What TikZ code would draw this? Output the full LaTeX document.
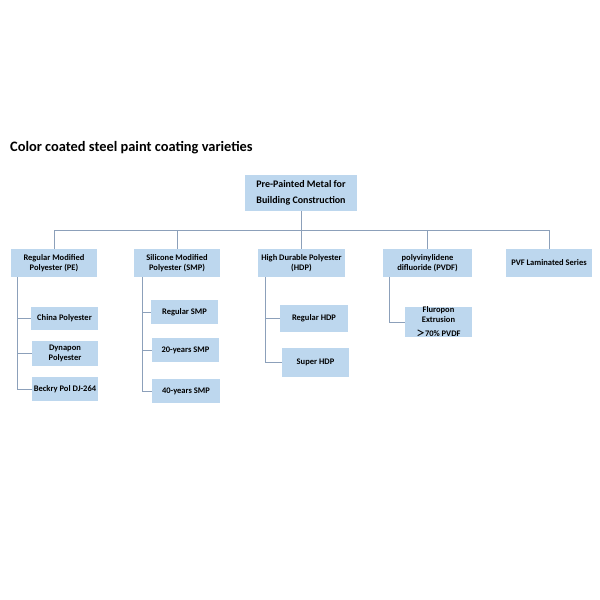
\documentclass[tikz,border=0pt]{standalone}
\usepackage{fontspec}
\setmainfont{Carlito}
\newfontfamily\cjkf{Noto Sans CJK SC}
\definecolor{boxblue}{RGB}{189,215,238}
\definecolor{linecol}{RGB}{140,160,186}
\begin{document}
\begin{tikzpicture}[x=1pt,y=-1pt,
  bx/.style={fill=boxblue,inner sep=0pt,align=center,font=\bfseries\fontsize{8.5}{10}\selectfont},
  conn/.style={draw=linecol,line width=0.7pt}]
\useasboundingbox (0,0) rectangle (600,600);
\fill[white] (0,0) rectangle (600,600);
\node[anchor=west,font=\bfseries\fontsize{14.4}{16}\selectfont,inner sep=0pt] (title) at (10,148) {Color coated steel paint coating varieties};
% root
\node[bx,minimum width=112pt,minimum height=36pt,font=\bfseries\fontsize{10}{16}\selectfont] (root) at (301,193) {Pre-Painted Metal for\\Building Construction};
% level 1
\node[bx,minimum width=86pt,minimum height=28pt] (pe) at (54,263) {Regular Modified\\Polyester (PE)};
\node[bx,minimum width=86pt,minimum height=28pt] (smp) at (177,263) {Silicone Modified\\Polyester (SMP)};
\node[bx,minimum width=87pt,minimum height=28pt] (hdp) at (301.5,263) {High Durable Polyester\\(HDP)};
\node[bx,minimum width=89pt,minimum height=28pt] (pvdf) at (427.5,263) {polyvinylidene\\difluoride (PVDF)};
\node[bx,minimum width=86pt,minimum height=28pt] (pvf) at (549,263) {PVF Laminated Series};
% children
\node[bx,minimum width=67pt,minimum height=23pt] (china) at (64.5,318.5) {China Polyester};
\node[bx,minimum width=66pt,minimum height=25pt] (dyna) at (65,353.5) {Dynapon\\Polyester};
\node[bx,minimum width=66pt,minimum height=24pt] (beck) at (65,389) {Beckry Pol DJ-264};
\node[bx,minimum width=67pt,minimum height=24pt] (rsmp) at (184.5,312) {Regular SMP};
\node[bx,minimum width=67pt,minimum height=24pt] (smp20) at (185.5,350) {20-years SMP};
\node[bx,minimum width=68pt,minimum height=24pt] (smp40) at (186,391) {40-years SMP};
\node[bx,minimum width=68pt,minimum height=27pt] (rhdp) at (314,318.5) {Regular HDP};
\node[bx,minimum width=67pt,minimum height=29pt] (shdp) at (315.5,362.5) {Super HDP};
\node[bx,minimum width=67pt,minimum height=30pt] (flu) at (438.5,322) {};
\begin{scope}
\clip (flu.north west) rectangle (flu.south east);
\node[bx,fill=none] (flut) at (438.5,314.5) {Fluropon\\Extrusion};
\node[bx,fill=none,anchor=center] (flu70) at (438.5,333.5) {{\cjkf\fontsize{8.5}{10}\selectfont ＞}70\% PVDF};
\end{scope}
% connectors
\draw[conn] (root.south) -- ++(0,19) coordinate (bus);
\draw[conn] (pe.north) -- (pe.north |- bus) -- (pvf.north |- bus) -- (pvf.north);
\draw[conn] (smp.north) -- (smp.north |- bus);
\draw[conn] (hdp.north) -- (hdp.north |- bus);
\draw[conn] (pvdf.north) -- (pvdf.north |- bus);
\draw[conn] ([xshift=7pt]pe.south west) |- (china.west);
\draw[conn] ([xshift=7pt]pe.south west) |- (dyna.west);
\draw[conn] ([xshift=7pt]pe.south west) |- (beck.west);
\draw[conn] ([xshift=9pt]smp.south west) |- (rsmp.west);
\draw[conn] ([xshift=9pt]smp.south west) |- (smp20.west);
\draw[conn] ([xshift=9pt]smp.south west) |- (smp40.west);
\draw[conn] ([xshift=8pt]hdp.south west) |- (rhdp.west);
\draw[conn] ([xshift=8pt]hdp.south west) |- (shdp.west);
\draw[conn] ([xshift=7pt]pvdf.south west) |- (flu.west);
\end{tikzpicture}
\end{document}
